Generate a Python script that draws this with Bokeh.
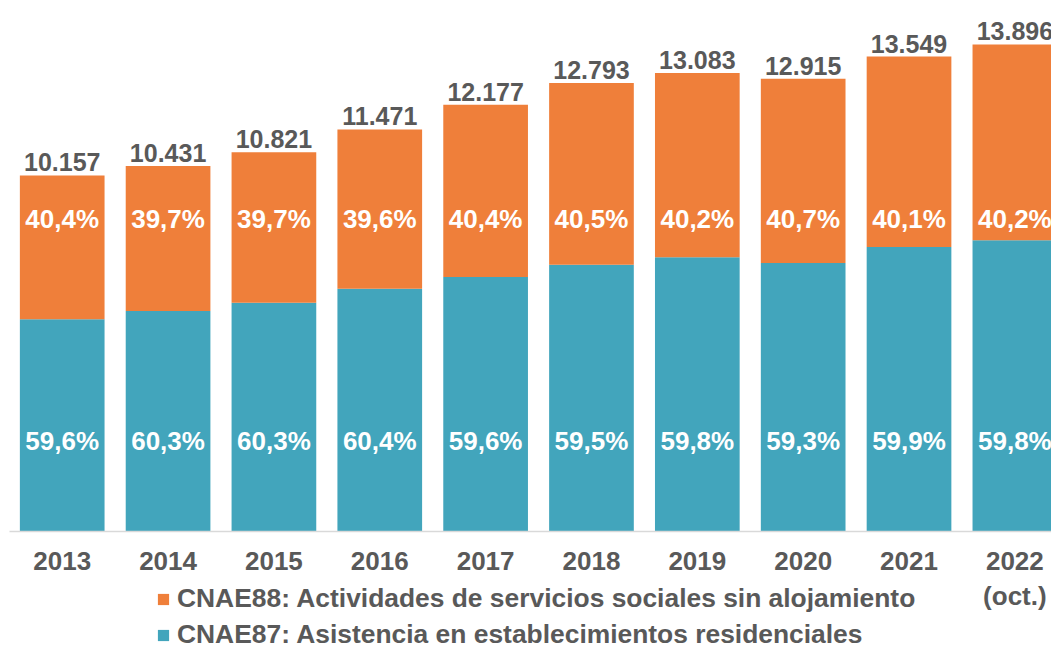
from bokeh.plotting import figure
from bokeh.models import Range1d, FixedTicker, Legend, LegendItem
from bokeh.core.properties import value
from bokeh.embed import file_html
from bokeh.resources import INLINE

years = ["2013", "2014", "2015", "2016", "2017", "2018", "2019", "2020", "2021", "2022\n(oct.)"]
totals = [10157, 10431, 10821, 11471, 12177, 12793, 13083, 12915, 13549, 13896]
pct87 = [59.6, 60.3, 60.3, 60.4, 59.6, 59.5, 59.8, 59.3, 59.9, 59.8]
pct88 = [40.4, 39.7, 39.7, 39.6, 40.4, 40.5, 40.2, 40.7, 40.1, 40.2]
name87 = "CNAE87: Asistencia en establecimientos residenciales"
name88 = "CNAE88: Actividades de servicios sociales sin alojamiento"

C87 = "#42A5BC"
C88 = "#EF7F3A"
GREY = "#595959"
FONT = "Liberation Sans"

xs = list(range(len(years)))
v87 = [t * p / 100 for t, p in zip(totals, pct87)]
v88 = [t - a for t, a in zip(totals, v87)]

p = figure(width=1051, height=649, output_backend="svg", toolbar_location=None,
           x_range=Range1d(-0.583, 9.346), y_range=Range1d(-3367, 15150),
           min_border_left=0, min_border_right=0, min_border_top=0, min_border_bottom=0)
p.outline_line_color = None
p.grid.visible = False
p.yaxis.visible = False

r87 = p.vbar(x=xs, bottom=0, top=v87, width=0.8, color=C87, line_color=None)
r88 = p.vbar(x=xs, bottom=v87, top=totals, width=0.8, color=C88, line_color=None)

ax = p.xaxis[0]
ax.fixed_location = 0
ax.bounds = (-0.5, 9.346)
ax.ticker = FixedTicker(ticks=xs)
ax.major_label_overrides = {i: y for i, y in enumerate(years)}
ax.major_tick_line_color = None
ax.minor_tick_line_color = None
ax.axis_line_color = "#D9D9D9"
ax.axis_line_width = 1.5
ax.major_label_text_font = FONT
ax.major_label_text_font_style = "bold"
ax.major_label_text_font_size = "26px"
ax.major_label_text_color = GREY
ax.major_label_text_line_height = 1.15
ax.major_label_standoff = 9

tot_labels = [f"{t:,}".replace(",", ".") for t in totals]
p.text(x=xs, y=totals, text=tot_labels, y_offset=-4, text_align="center",
       text_baseline="bottom", text_font=value(FONT), text_font_style="bold",
       text_font_size="25px", text_color=GREY)

lab87 = [f"{v:.1f}".replace(".", ",") + "%" for v in pct87]
lab88 = [f"{v:.1f}".replace(".", ",") + "%" for v in pct88]
Y87_LABEL = 2568
Y88_LABEL = 8916
p.text(x=xs, y=[Y87_LABEL] * len(xs), text=lab87, text_align="center",
       text_baseline="middle", text_font=value(FONT), text_font_style="bold",
       text_font_size="26px", text_color="white")
p.text(x=xs, y=[Y88_LABEL] * len(xs), text=lab88, text_align="center",
       text_baseline="middle", text_font=value(FONT), text_font_style="bold",
       text_font_size="26px", text_color="white")

legend = Legend(items=[LegendItem(label=name88, renderers=[r88]),
                       LegendItem(label=name87, renderers=[r87])],
                location=(156, -1), orientation="vertical",
                glyph_width=14, glyph_height=14, label_standoff=7,
                label_height=30, spacing=5, padding=0, margin=0,
                border_line_color=None, background_fill_alpha=0,
                label_text_font=FONT, label_text_font_style="bold",
                label_text_font_size="26.4px", label_text_color=GREY)
p.add_layout(legend, "center")

open("out.html", "w").write(file_html(p, INLINE))
